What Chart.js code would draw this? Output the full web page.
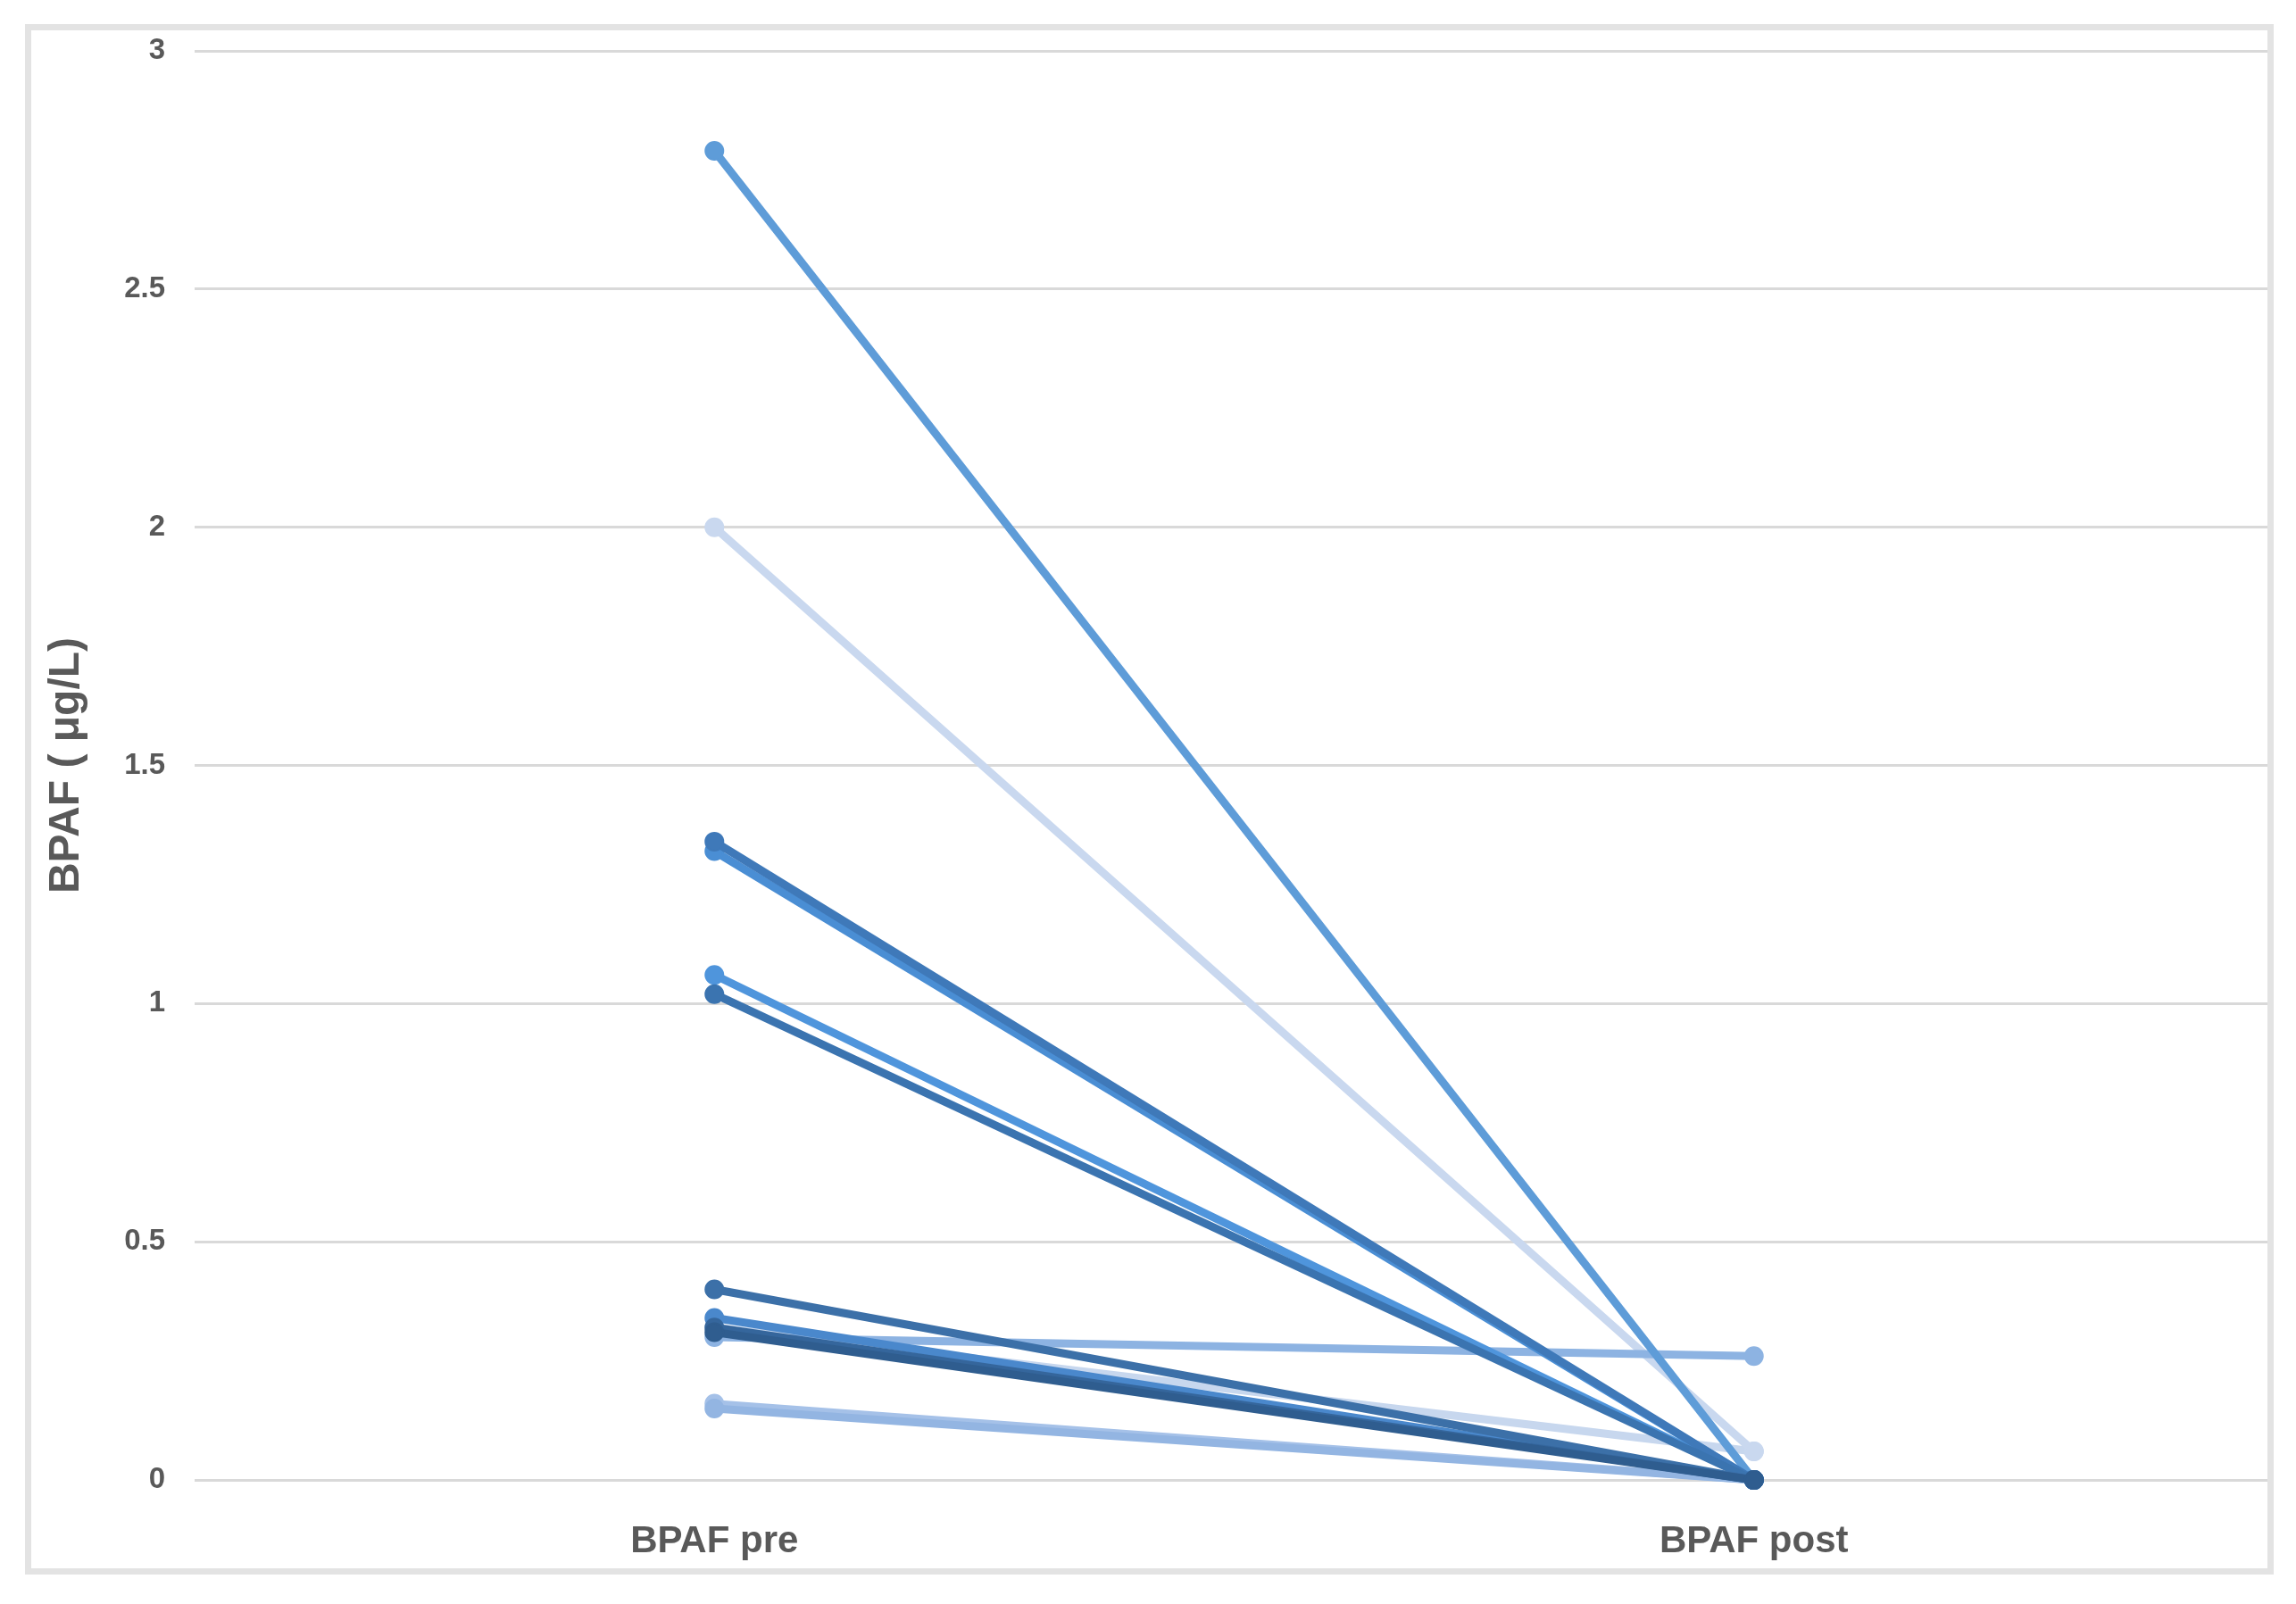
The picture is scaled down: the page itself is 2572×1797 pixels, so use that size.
<!DOCTYPE html>
<html>
<head>
<meta charset="utf-8">
<script src="https://cdn.jsdelivr.net/npm/chart.js@4.4.1/dist/chart.umd.min.js"></script>
<style>
    html, body { margin: 0; padding: 0; background: #ffffff; }
    #moldura {
        position: absolute; left: 28px; top: 27px; width: 2519px; height: 1737px;
        box-sizing: border-box; border: 7px solid #e3e3e3; z-index: 2;
    }
    #area { position: absolute; left: 0; top: 0; width: 2572px; height: 1797px; z-index: 1; }
</style>
</head>
<body>
<div id="moldura"></div>
<div id="area"><canvas id="grafico" width="2572" height="1797"></canvas></div>
<script>
// categorias do eixo x
const categorias = ['BPAF pre', 'BPAF post'];

// um paciente por linha: valor antes e depois (µg/L)
const valoresPre  = [0.31, 0.32, 0.40, 1.02, 1.34, 0.34, 1.32, 1.06, 2.79, 0.30, 0.15, 0.16, 2.00, 0.32];
const valoresPost = [0.00, 0.00, 0.00, 0.00, 0.00, 0.00, 0.00, 0.00, 0.00, 0.26, 0.00, 0.00, 0.06, 0.06];

// marcas do eixo y
const eixoYMin = 0;
const eixoYMax = 3;
const eixoYPasso = 0.5;

// cores das linhas (tons de azul, do mais escuro ao mais claro)
const coresLinhas = [
    '#2f5d8f', '#35669c', '#3c70a8', '#3b74b0', '#3f79b9', '#4a88cc', '#4a8ed4',
    '#4f95dc', '#5e9cd8', '#8db3e2', '#93b5e2', '#a5c1e8', '#c9d8ef', '#c7d7ee'
];

const corTexto = '#595959';
const fonte = 'Liberation Sans';

const datasets = valoresPre.map((pre, i) => ({
    label: 'Paciente ' + (i + 1),
    data: [pre, valoresPost[i]],
    borderColor: coresLinhas[i],
    backgroundColor: coresLinhas[i],
    pointBackgroundColor: coresLinhas[i],
    pointBorderColor: coresLinhas[i],
    borderWidth: 9,
    pointRadius: 10,
    pointBorderWidth: 2,
    tension: 0,
    fill: false,
    clip: false
}));

new Chart(document.getElementById('grafico'), {
    type: 'line',
    data: {
        labels: categorias,
        datasets: datasets
    },
    options: {
        responsive: false,
        animation: false,
        events: [],
        layout: {
            padding: { left: 0, right: 25, top: 57, bottom: 0 }
        },
        plugins: {
            legend: { display: false },
            tooltip: { enabled: false }
        },
        scales: {
            x: {
                offset: true,
                grid: { display: false, drawTicks: false },
                border: { display: false },
                ticks: {
                    padding: 44,
                    color: corTexto,
                    font: { family: fonte, size: 42, weight: 'bold' }
                },
                afterFit: (scale) => { scale.height = 139; }
            },
            y: {
                min: eixoYMin,
                max: eixoYMax,
                grid: { color: '#d9d9d9', lineWidth: 3, drawTicks: false },
                border: { display: false },
                ticks: {
                    stepSize: eixoYPasso,
                    padding: 33,
                    color: corTexto,
                    font: { family: fonte, size: 33, weight: 'bold' },
                    callback: (valor) => String(valor)
                },
                title: {
                    display: true,
                    text: 'BPAF ( μg/L)',
                    color: corTexto,
                    padding: { top: 46, bottom: 0 },
                    font: { family: fonte, size: 48, weight: 'bold' }
                },
                afterFit: (scale) => { scale.width = 218; }
            }
        }
    }
});
</script>
</body>
</html>
